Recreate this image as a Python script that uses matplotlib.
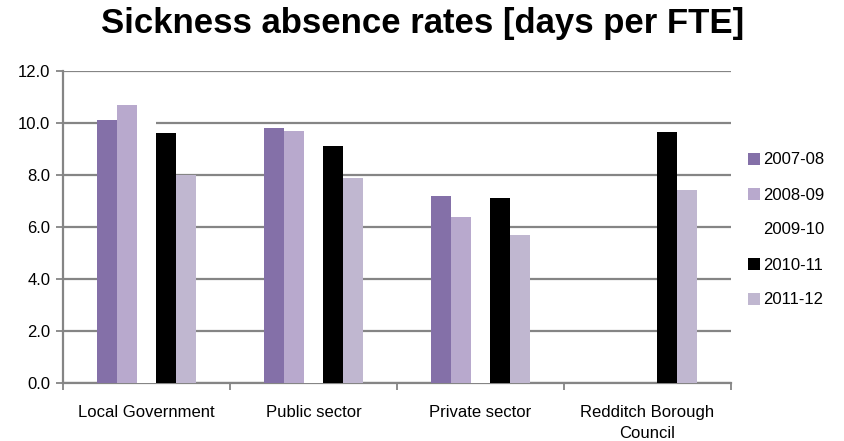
import numpy as np
import matplotlib
matplotlib.use("Agg")
import matplotlib.pyplot as plt
from matplotlib.patches import Patch

categories = ["Local Government", "Public sector", "Private sector", "Redditch Borough\nCouncil"]
series_names = ["2007-08", "2008-09", "2009-10", "2010-11", "2011-12"]
s2007 = [10.1, 9.8, 7.2, np.nan]
s2008 = [10.7, 9.7, 6.4, np.nan]
s2009 = [10.8, 9.3, 6.8, np.nan]
s2010 = [9.6, 9.1, 7.1, 9.67]
s2011 = [8.0, 7.9, 5.7, 7.42]
yticks = [0, 2, 4, 6, 8, 10, 12]

series = [s2007, s2008, s2009, s2010, s2011]
colors = ["#8470A8", "#B8A9CD", "#FFFFFF", "#000000", "#C0B7D0"]

plt.rcParams['font.family'] = ['Liberation Sans', 'DejaVu Sans']

fig = plt.figure(figsize=(8.45, 4.41), dpi=100)
ax = fig.add_axes([63/845, 1-383/441, (731-63)/845, (383-71)/441])

w = 0.1174
x = np.arange(len(categories)) + 0.5
for j, (vals, c) in enumerate(zip(series, colors)):
    ax.bar(x + (j - 2) * w, vals, width=w, color=c, zorder=3, linewidth=0)

ax.set_xlim(0, len(categories))
ax.set_ylim(0, 12)
ax.set_yticks(yticks)
ax.set_yticklabels([f"{v:.1f}" for v in yticks], fontsize=12)
ax.yaxis.grid(True, color="#858585", linewidth=1.6, zorder=0)
ax.set_axisbelow(True)

ax.set_xticks(np.arange(len(categories) + 1))
ax.set_xticklabels([])
ax.set_xticks(x, minor=True)
ax.set_xticklabels(categories, minor=True, fontsize=12, linespacing=1.45)
ax.tick_params(axis='x', which='minor', length=0, pad=16)
ax.tick_params(axis='x', which='major', length=5, color="#858585", width=1.3)
ax.tick_params(axis='y', length=5, color="#858585", width=1.3, pad=4)

for s in ["top", "right"]:
    ax.spines[s].set_visible(False)
for s in ["left", "bottom"]:
    ax.spines[s].set_color("#858585")
    ax.spines[s].set_linewidth(1.6)

fig.text(0.5, 1 - 24/441, "Sickness absence rates [days per FTE]", ha="center", va="center",
         fontsize=25, fontweight="bold")

handles = [Patch(facecolor=c, edgecolor="none") for c in colors]
leg = fig.legend(handles, series_names, loc="center left", bbox_to_anchor=(733/845, 1 - 230/441),
                 frameon=False, fontsize=12, handlelength=0.75, handleheight=0.75,
                 handletextpad=0.15, labelspacing=1.2)

fig.savefig("out.png", dpi=100)
